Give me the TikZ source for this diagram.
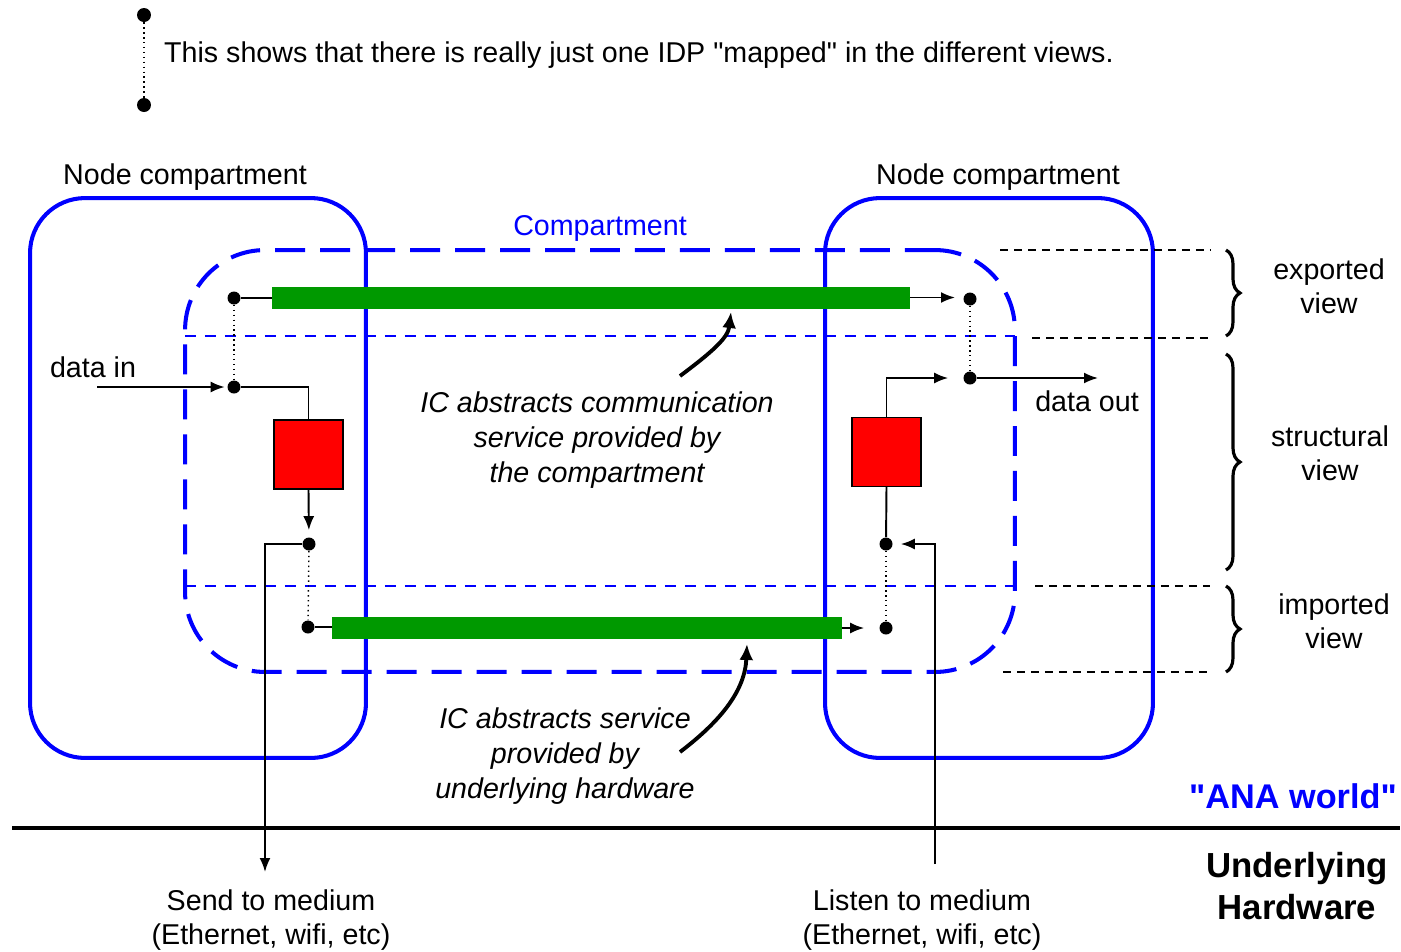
\documentclass[tikz,border=0pt]{standalone}
\usepackage{fontspec}
\setmainfont{Liberation Sans}
\usetikzlibrary{shapes,arrows,arrows.meta,positioning,decorations.pathreplacing}
\definecolor{anablue}{RGB}{0,0,255}
\definecolor{bargreen}{RGB}{0,153,0}
\definecolor{boxred}{RGB}{255,0,0}

\begin{document}
\begin{tikzpicture}[x=0.02cm,y=-0.02cm,>={Latex[length=0.28cm,width=0.22cm]},
    every node/.style={font=\fontsize{16.3}{19.6}\selectfont},
    dot/.style={circle,fill=black,inner sep=0pt,minimum size=0.26cm},
    nodecomp/.style={draw=anablue,line width=2.3pt,rounded corners=1.1cm,minimum height=11.2cm},
    comp/.style={draw=anablue,line width=2.3pt,dash pattern=on 0.6cm off 0.3cm,rounded corners=1.6cm,minimum width=16.6cm,minimum height=8.44cm},
    viewline/.style={draw=anablue,line width=1.5pt,dash pattern=on 0.22cm off 0.18cm},
    guide/.style={draw=black,line width=0.6pt,dash pattern=on 0.16cm off 0.12cm},
    idp/.style={draw=black,fill=boxred,line width=0.8pt,minimum width=1.38cm,minimum height=1.38cm},
    bar/.style={fill=bargreen,inner sep=0pt,minimum height=0.44cm},
    wire/.style={line width=1.1pt},
    brace/.style={decorate,decoration={brace,amplitude=0.28cm},line width=1.8pt},
    note/.style={font=\fontsize{16.3}{19.8}\selectfont\itshape,align=center},
    bigarrow/.style={-{Latex[length=0.32cm,width=0.28cm]},line width=2.2pt}
  ]
    \useasboundingbox (0,0) rectangle (1401,951);

    % legend
    \node[dot,minimum size=0.28cm] (leg1) at (144,15) {};
    \node[dot,minimum size=0.28cm] (leg2) at (144,105) {};
    \draw[dotted,line width=0.8pt] (leg1) -- (leg2);
    \node[anchor=west] (legtxt) at (158,55) {This shows that there is really just one IDP \textquotedbl mapped\textquotedbl{} in the different views.};

    % compartments
    \node[nodecomp,minimum width=6.72cm] (lnc) at (198,478) {};
    \node[nodecomp,minimum width=6.56cm] (rnc) at (989,478) {};
    \node (lnclbl) at (185,177) {Node compartment};
    \node (rnclbl) at (998,177) {Node compartment};
    \node[comp] (comp) at (600,461) {};
    \node[text=anablue] (complbl) at (600,228) {Compartment};

    % views
    \draw[viewline] (185,336) -- (1015,336);
    \draw[viewline] (185,586) -- (1015,586);
    \draw[guide] (1000,250) -- (1210,250);
    \draw[guide] (1032,338) -- (1210,338);
    \draw[guide] (1035,586) -- (1210,586);
    \draw[guide] (1003,672) -- (1210,672);
    \draw[brace] (1226,250) -- (1226,336);
    \draw[brace] (1226,354) -- (1226,570);
    \draw[brace] (1226,586) -- (1226,672);
    \node[align=center] (vexp) at (1329,286) {exported\\view};
    \node[align=center] (vstr) at (1330,453) {structural\\view};
    \node[align=center] (vimp) at (1334,621) {imported\\view};

    % IC bars and IDP boxes
    \node[bar,minimum width=12.76cm] (gtop) at (591,297.5) {};
    \node[bar,minimum width=10.2cm] (gbot) at (587,628) {};
    \node[idp] (lbox) at (308.5,454.5) {};
    \node[idp] (rbox) at (886.5,452) {};

    % attachment points
    \node[dot] (inTop) at (234,298) {};
    \node[dot] (inMid) at (234,387) {};
    \node[dot] (outMid) at (309,544) {};
    \node[dot] (outBot) at (308,627) {};
    \node[dot] (rTop) at (970,299) {};
    \node[dot] (rMid) at (970,378) {};
    \node[dot] (rLow) at (886,544) {};
    \node[dot] (rBot) at (886,628) {};
    \coordinate (din) at (97,387);
    \coordinate (dout) at (1098,378);
    \coordinate (send) at (265,872);
    \coordinate (listen) at (935,864);

    % left side
    \draw[wire] (inTop) -- (inTop -| gtop.west);
    \draw[dotted,line width=0.8pt] (inTop) -- (inMid);
    \draw[wire,->,shorten >=0.05cm] (din) -- (inMid);
    \draw[wire] (inMid) -| (lbox.north);
    \draw[wire,->,shorten >=0.14cm] (lbox.south) -- (outMid);
    \draw[wire,->] (outMid) -| (send);
    \draw[dotted,line width=0.8pt] (outMid) -- (outBot);
    \draw[wire] (outBot) -- (outBot -| gbot.west);

    % right side
    \draw[wire,->,shorten >=0.3cm] (gtop.east) -- (gtop.east -| rTop);
    \draw[dotted,line width=0.8pt] (rTop) -- (rMid);
    \draw[wire,->,shorten >=0.3cm] (rbox.north) |- (rMid);
    \draw[wire,->] (rMid) -- (dout);
    \draw[wire] (rbox.south) -- (rLow);
    \draw[wire,->,shorten >=0.16cm] (listen) |- (rLow);
    \draw[dotted,line width=0.8pt] (rLow) -- (rBot);
    \draw[wire,->,shorten >=0.3cm] (gbot.east) -- (rBot);

    \node (dinlbl) at (93,367) {data in};
    \node (doutlbl) at (1087,401) {data out};

    % explanations
    \node[note] (icup) at (597,440) {IC abstracts communication\\service provided by\\the compartment};
    \node[note] (iclow) at (565,756) {IC abstracts service\\provided by\\underlying hardware};
    \coordinate (upfrom) at (680,376);
    \coordinate (lowfrom) at (680,752);
    \draw[bigarrow] (upfrom) .. controls (712,352) and (728,338) .. (731,312);
    \draw[bigarrow] (lowfrom) .. controls (722,720) and (745,690) .. (747,644);

    % hardware boundary
    \draw[line width=2.8pt] (12,828) -- (1400,828);
    \node[text=anablue,font=\fontsize{19.5}{23}\selectfont\bfseries] (ana) at (1293,796) {\textquotedbl ANA world\textquotedbl};
    \node[align=center,font=\fontsize{19.8}{24.4}\selectfont\bfseries] (hw) at (1297,886) {Underlying\\Hardware};
    \node[align=center] (sendlbl) at (271,920) {Send to medium\\(Ethernet, wifi, etc)};
    \node[align=center] (listenlbl) at (922,920) {Listen to medium\\(Ethernet, wifi, etc)};
\end{tikzpicture}
\end{document}
